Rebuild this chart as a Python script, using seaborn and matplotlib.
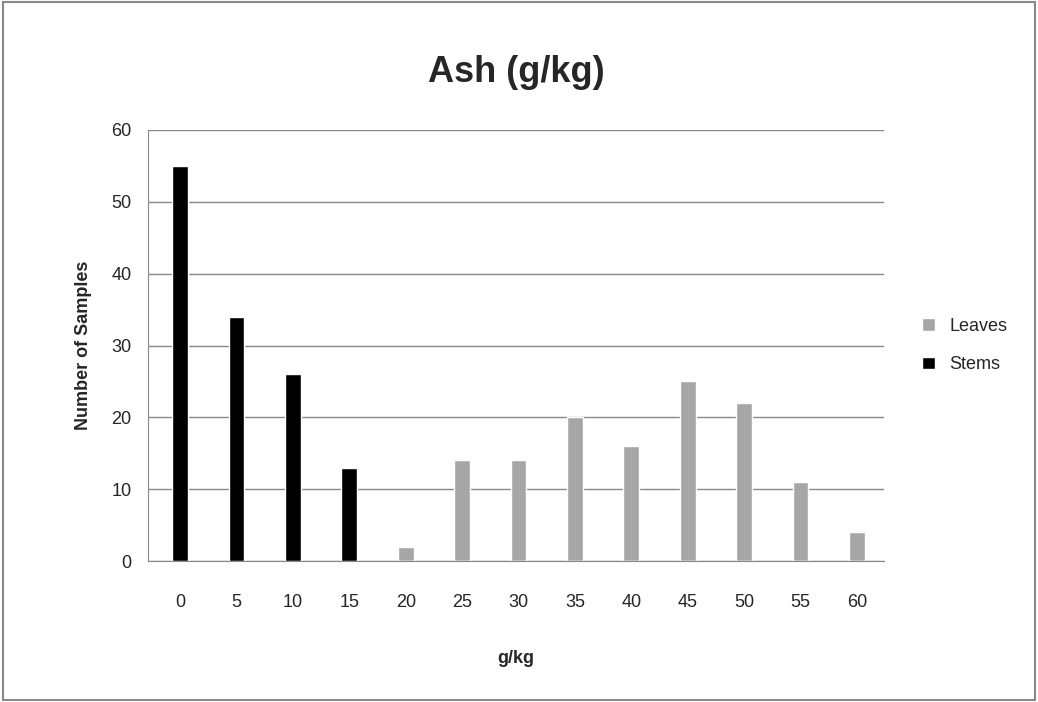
import matplotlib
matplotlib.use("Agg")
import matplotlib.pyplot as plt
import seaborn as sns
import pandas as pd

bins = ["0", "5", "10", "15", "20", "25", "30", "35", "40", "45", "50", "55", "60"]
leaves = [0, 0, 0, 0, 2, 14, 14, 20, 16, 25, 22, 11, 4]
stems = [55, 34, 26, 13, 0, 0, 0, 0, 0, 0, 0, 0, 0]

df = pd.DataFrame({
    "bin": bins * 2,
    "count": leaves + stems,
    "series": ["Leaves"] * len(bins) + ["Stems"] * len(bins),
})

sns.set_style("white")
plt.rcParams["font.family"] = ["Liberation Sans", "DejaVu Sans"]

fig = plt.figure(figsize=(10.38, 7.02), dpi=100)
ax = fig.add_axes([148 / 1038, 1 - 561 / 702, (884 - 148) / 1038, (561 - 130) / 702])
sns.barplot(data=df, x="bin", y="count", hue="series", order=bins,
            palette={"Leaves": "#a6a6a6", "Stems": "#000000"},
            dodge=False, width=0.28, ax=ax, saturation=1)

ax.set_xlim(-0.57, 12.48)
ax.set_ylim(0, 60)
ax.set_yticks(range(0, 61, 10))
ax.yaxis.grid(True, color="#888888", linewidth=1)
ax.set_axisbelow(True)
for s in ["top", "right"]:
    ax.spines[s].set_visible(False)
ax.spines["left"].set_color("#888888")
ax.spines["bottom"].set_color("#888888")
ax.tick_params(axis="y", labelsize=13, length=0, pad=12)
ax.tick_params(axis="x", labelsize=13, length=0, pad=24)
ax.set_xlabel("g/kg", fontsize=13, fontweight="bold", labelpad=28)
ax.set_ylabel("Number of Samples", fontsize=13, fontweight="bold", labelpad=14)
fig.text((148 + 884) / 2 / 1038, 1 - 72 / 702, "Ash (g/kg)", ha="center", va="center",
         fontsize=26, fontweight="bold")
ax.legend(loc="center left", bbox_to_anchor=(1.03, 0.5), frameon=False,
          fontsize=13, handlelength=0.7, handleheight=0.7, labelspacing=1.2)

fig.patches.append(plt.Rectangle((0.003, 0.003), 0.994, 0.994, transform=fig.transFigure,
                                 fill=False, edgecolor="#888888", linewidth=1.5))
fig.savefig("out.png", dpi=100)
